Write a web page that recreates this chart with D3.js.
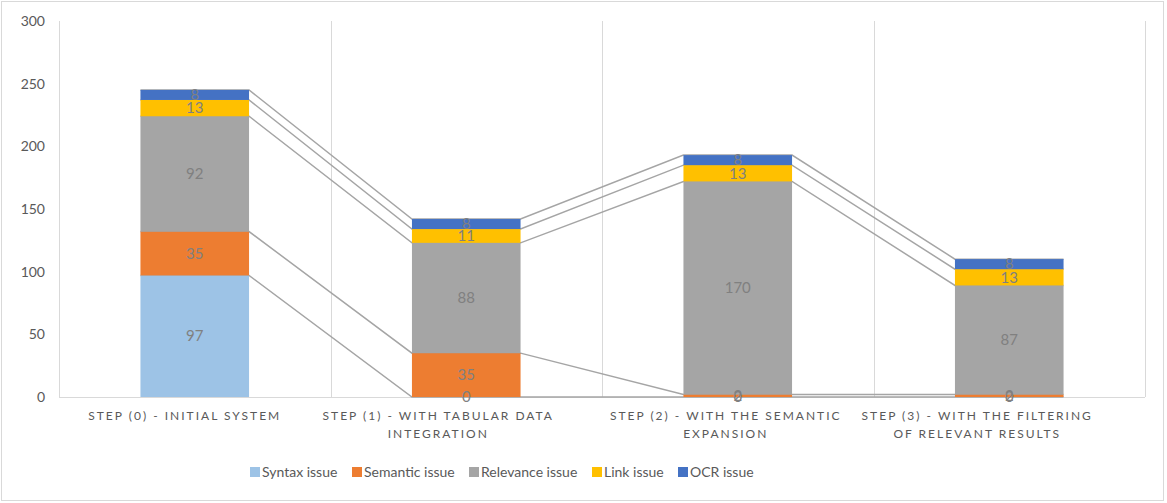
<!DOCTYPE html>
<html lang="en">

<head>
    <meta charset="UTF-8">
    <title>Issues by step</title>
    <style>
        body {
            margin: 0;
            background: #fff;
        }

        svg {
            font-family: Lato, "Open Sans", sans-serif;
        }

        .grid {
            stroke: #d9d9d9;
            stroke-width: 1px;
        }

        .tick-lbl {
            fill: #595959;
            font-size: 14px;
            text-anchor: end;
        }

        .cat-lbl {
            fill: #595959;
            font-size: 12px;
            letter-spacing: 2px;
            text-anchor: middle;
        }

        .val-lbl {
            fill: #808080;
            font-size: 15px;
            text-anchor: middle;
        }

        .series-line {
            stroke: #a5a5a5;
            stroke-width: 1.5px;
            fill: none;
        }

        .legend text {
            fill: #595959;
            font-size: 14px;
        }
    </style>
</head>

<body>
    <script src="https://d3js.org/d3.v7.min.js"></script>
    <script>
        // data
        const steps = [
            ['STEP (0) - INITIAL SYSTEM'],
            ['STEP (1) - WITH TABULAR DATA', 'INTEGRATION'],
            ['STEP (2) -  WITH THE SEMANTIC', 'EXPANSION'],
            ['STEP (3) - WITH THE FILTERING', 'OF RELEVANT RESULTS'],
        ];
        const seriesNames = ['Syntax issue', 'Semantic issue', 'Relevance issue', 'Link issue', 'OCR issue'];
        const seriesColors = ['#9dc3e6', '#ed7d31', '#a5a5a5', '#ffc000', '#4472c4'];
        const syntax = [97, 0, 0, 0];
        const semantic = [35, 35, 2, 2];
        const relevance = [92, 88, 170, 87];
        const link = [13, 11, 13, 13];
        const ocr = [8, 8, 8, 8];
        const yTicks = [0, 50, 100, 150, 200, 250, 300];

        // 1. svg
        const W = 1167, H = 503;
        const m = { t: 21, b: 106, l: 59, r: 22 };

        const s = d3.select('body').append('svg')
            .attr('width', W)
            .attr('height', H);

        s.append('rect')
            .attr('x', 1.5).attr('y', 1.5)
            .attr('width', W - 5).attr('height', H - 4)
            .attr('fill', 'none')
            .attr('stroke', '#d9d9d9');

        const x = d3.scaleBand()
            .domain(d3.range(steps.length))
            .range([m.l, W - m.r])
            .padding(0);
        const y = d3.scaleLinear()
            .domain([0, 300])
            .range([H - m.b, m.t]);

        const bw = x.bandwidth() * 0.4;

        // 2. grid + axis
        const gx = d3.range(steps.length + 1).map(i => m.l + i * x.bandwidth());
        s.selectAll('.vgrid')
            .data(gx)
            .enter().append('line')
            .attr('class', 'grid')
            .attr('x1', d => Math.round(d) + 0.5).attr('x2', d => Math.round(d) + 0.5)
            .attr('y1', y(300)).attr('y2', y(0));

        s.append('line')
            .attr('class', 'grid')
            .attr('x1', m.l).attr('x2', W - m.r)
            .attr('y1', y(0) + 0.5).attr('y2', y(0) + 0.5);

        s.selectAll('.tick-lbl')
            .data(yTicks)
            .enter().append('text')
            .attr('class', 'tick-lbl')
            .attr('x', 45)
            .attr('y', d => y(d))
            .attr('dy', '0.35em')
            .text(d => d);

        // 3. stacked bars
        const rows = steps.map((_, i) => [syntax[i], semantic[i], relevance[i], link[i], ocr[i]]);
        const stacked = d3.stack().keys(d3.range(5))(rows);

        // series lines between bars
        stacked.forEach(layer => {
            const pts = [];
            layer.forEach((d, i) => {
                const cx = x(i) + x.bandwidth() / 2;
                pts.push([cx - bw / 2, y(d[1])], [cx + bw / 2, y(d[1])]);
            });
            s.append('path')
                .attr('class', 'series-line')
                .attr('d', d3.line()(pts));
        });

        const g = s.selectAll('.layer')
            .data(stacked)
            .enter().append('g')
            .attr('class', 'layer')
            .attr('fill', (d, k) => seriesColors[k]);

        g.selectAll('rect')
            .data(d => d)
            .enter().append('rect')
            .attr('x', (d, i) => x(i) + x.bandwidth() / 2 - bw / 2)
            .attr('width', bw)
            .attr('y', d => y(d[1]))
            .attr('height', d => y(d[0]) - y(d[1]));

        // value labels
        stacked.forEach((layer, k) => {
            s.selectAll('.v' + k)
                .data(layer)
                .enter().append('text')
                .attr('class', 'val-lbl')
                .attr('x', (d, i) => x(i) + x.bandwidth() / 2)
                .attr('y', d => y((d[0] + d[1]) / 2))
                .attr('dy', '0.35em')
                .text(d => d[1] - d[0]);
        });

        // 4. category labels (excel draws them a bit left of the bar centre)
        const lblShift = [-10, -28, -12, -32];
        steps.forEach((lines, i) => {
            const cx = x(i) + x.bandwidth() / 2 + lblShift[i];
            const t = s.append('text')
                .attr('class', 'cat-lbl')
                .attr('x', cx)
                .attr('y', y(0) + 23);
            lines.forEach((ln, j) => {
                t.append('tspan')
                    .attr('x', cx)
                    .attr('dy', j ? 18 : 0)
                    .text(ln);
            });
        });

        // 5. legend
        const legX = [250, 352, 469, 592, 678];
        const lg = s.selectAll('.legend')
            .data(seriesNames)
            .enter().append('g')
            .attr('class', 'legend')
            .attr('transform', (d, i) => `translate(${legX[i]},472)`);
        lg.append('rect')
            .attr('x', 0).attr('y', -5)
            .attr('width', 10).attr('height', 10)
            .attr('fill', (d, i) => seriesColors[i]);
        lg.append('text')
            .attr('x', 12)
            .attr('dy', '0.35em')
            .text(d => d);
    </script>
</body>

</html>
